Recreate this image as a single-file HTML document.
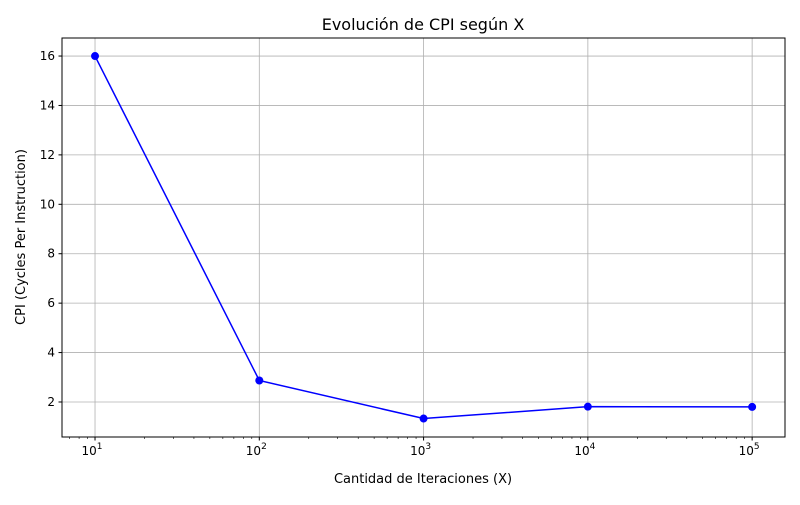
<!DOCTYPE html>
<html><head><meta charset="utf-8"><style>
body{margin:0;background:#fff;font-family:"Liberation Sans","DejaVu Sans",sans-serif;}
svg text{font-family:"DejaVu Sans","Liberation Sans",sans-serif;}
</style></head><body>
<svg id="chart" width="800" height="500">
<rect x="0" y="0" width="800" height="500" fill="#fff"/>
<g id="grid"></g><g id="axes"></g><g id="series"></g>
<rect x="62" y="38" width="723" height="399" fill="none" stroke="#000" stroke-width="1"/>
<text x="423" y="30" font-size="16" text-anchor="middle">Evolución de CPI según X</text>
<text x="423" y="483" font-size="13" text-anchor="middle">Cantidad de Iteraciones (X)</text>
<text x="25" y="237" font-size="13" text-anchor="middle" transform="rotate(-90 25 237)">CPI (Cycles Per Instruction)</text>
</svg>
<script>
const xValues=[10,100,1000,10000,100000];
const cpiValues=[16,2.87,1.33,1.81,1.80];
const yTicks=[2,4,6,8,10,12,14,16];
const xTickExps=[1,2,3,4,5];
const L=62,R=785,T=38,B=437;
const xMin=0.799,xMax=5.2,yMin=0.583,yMax=16.73;
const sx=v=>L+(Math.log10(v)-xMin)/(xMax-xMin)*(R-L);
const sy=v=>B-(v-yMin)/(yMax-yMin)*(B-T);
const NS="http://www.w3.org/2000/svg";
function mk(tag,attrs,parent){const e=document.createElementNS(NS,tag);for(const k in attrs)e.setAttribute(k,attrs[k]);document.getElementById(parent).appendChild(e);return e;}
yTicks.forEach(t=>{const y=sy(t);
const g=mk('line',{x1:L,x2:R,y1:y,y2:y,stroke:'#b0b0b0','stroke-width':0.8},'grid');


mk('line',{x1:L-3.5,x2:L,y1:y,y2:y,stroke:'#000'},'axes');
const tx=mk('text',{x:L-7,y:y+4,'font-size':12,'text-anchor':'end'},'axes');tx.textContent=t;

});
xTickExps.forEach(e=>{const x=sx(Math.pow(10,e));
const g=mk('line',{x1:x,x2:x,y1:T,y2:B,stroke:'#b0b0b0','stroke-width':0.8},'grid');


mk('line',{x1:x,x2:x,y1:B,y2:B+3.5,stroke:'#000'},'axes');
const tx=mk('text',{x:x-3,y:B+18,'font-size':12,'text-anchor':'middle'},'axes');
tx.innerHTML='10<tspan dy="-6" font-size="9">'+e+'</tspan>';

});
for(let e=0;e<=5;e++)for(let m=2;m<10;m++){const v=m*Math.pow(10,e);const x=sx(v);if(x<L||x>R)continue;
mk('line',{x1:x,x2:x,y1:B,y2:B+2,stroke:'#000','stroke-width':0.6},'axes');}
const pts=xValues.map((v,i)=>sx(v)+','+sy(cpiValues[i])).join(' ');
const pl=mk('polyline',{points:pts,fill:'none',stroke:'#0000ff','stroke-width':1.5},'series');


xValues.forEach((v,i)=>{const c=mk('circle',{cx:sx(v),cy:sy(cpiValues[i]),r:4,fill:'#0000ff'},'series');

});
</script>
</body></html>
